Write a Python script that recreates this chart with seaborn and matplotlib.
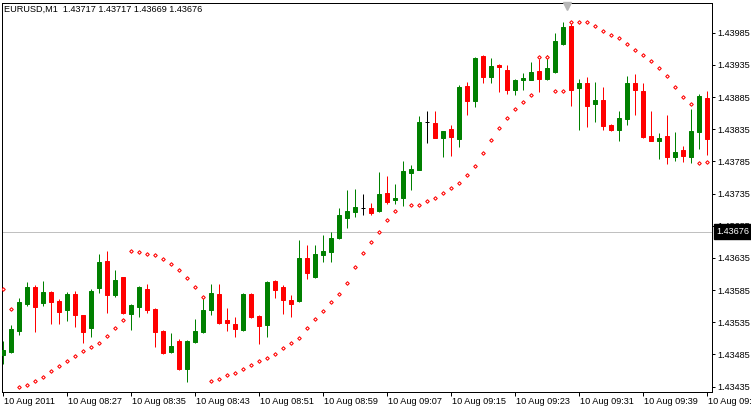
import numpy as np
import pandas as pd
import matplotlib
matplotlib.use("Agg")
import matplotlib.pyplot as plt
import matplotlib.transforms as mtransforms
import seaborn as sns

# ---------------- data (EURUSD M1, 10 Aug 2011 08:19 .. 09:47) ----------------
opens = [143484, 143489, 143521, 143564, 143590, 143565, 143582, 143568, 143554, 143579,
         143546, 143526, 143588, 143630, 143578, 143605, 143548, 143559, 143587, 143556,
         143521, 143489, 143506, 143462, 143504, 143520, 143554, 143579, 143539, 143532,
         143523, 143579, 143545, 143531, 143599, 143590, 143570, 143568, 143635, 143605,
         143640, 143644, 143666, 143697, 143706, 143713, 143713, 143708, 143736, 143725,
         143728, 143767, 143772, 143846, 143845, 143821, 143835, 143820, 143902, 143879,
         143949, 143916, 143935, 143927, 143896, 143912, 143912, 143926, 143913, 143924,
         143967, 143995, 143899, 143907, 143874, 143880, 143842, 143834, 143851, 143907,
         143894, 143824, 143817, 143824, 143792, 143803, 143792, 143831, 143884]
highs = [143506, 143531, 143573, 143598, 143593, 143599, 143583, 143571, 143582, 143584,
         143547, 143587, 143641, 143646, 143616, 143606, 143563, 143591, 143595, 143557,
         143523, 143518, 143509, 143507, 143540, 143574, 143595, 143595, 143557, 143543,
         143580, 143581, 143546, 143599, 143600, 143593, 143578, 143663, 143655, 143655,
         143671, 143675, 143713, 143741, 143742, 143734, 143720, 143769, 143762, 143750,
         143786, 143779, 143856, 143863, 143863, 143833, 143842, 143904, 143908, 143947,
         143950, 143946, 143936, 143935, 143913, 143922, 143940, 143944, 143950, 143985,
         144002, 144002, 143913, 143916, 143908, 143901, 143843, 143863, 143918, 143921,
         143907, 143863, 143829, 143857, 143830, 143809, 143866, 143890, 143894]
lows = [143470, 143487, 143515, 143560, 143520, 143560, 143532, 143532, 143537, 143528,
        143503, 143512, 143581, 143550, 143574, 143548, 143523, 143543, 143550, 143497,
        143486, 143487, 143461, 143442, 143503, 143519, 143546, 143533, 143521, 143512,
        143522, 143542, 143501, 143512, 143573, 143548, 143543, 143566, 143602, 143604,
        143629, 143629, 143665, 143682, 143699, 143702, 143702, 143707, 143719, 143719,
        143716, 143741, 143771, 143814, 143821, 143792, 143793, 143807, 143857, 143870,
        143907, 143907, 143893, 143890, 143888, 143896, 143911, 143893, 143912, 143923,
        143966, 143871, 143834, 143838, 143846, 143834, 143833, 143817, 143842, 143857,
        143822, 143816, 143789, 143781, 143786, 143784, 143783, 143804, 143795]
closes = [143492, 143525, 143567, 143590, 143559, 143582, 143567, 143551, 143579, 143546,
          143520, 143584, 143629, 143578, 143601, 143550, 143562, 143590, 143554, 143520,
          143487, 143498, 143462, 143506, 143521, 143554, 143581, 143534, 143534, 143525,
          143579, 143543, 143529, 143598, 143585, 143570, 143564, 143635, 143612, 143641,
          143646, 143666, 143702, 143708, 143714, 143713, 143705, 143734, 143722, 143728,
          143770, 143773, 143846, 143846, 143821, 143832, 143823, 143901, 143879, 143946,
          143916, 143933, 143932, 143896, 143912, 143915, 143924, 143913, 143930, 143972,
          143994, 143896, 143907, 143871, 143880, 143840, 143834, 143852, 143907, 143896,
          143823, 143817, 143821, 143792, 143800, 143793, 143832, 143887, 143820]
sar = [143587, 143556, 143435, 143438, 143444, 143450, 143459, 143467, 143475, 143483,
       143490, 143497, 143503, 143514, 143526, 143539, 143646, 143644, 143641, 143640,
       143633, 143626, 143616, 143604, 143590, 143574, 143444, 143447, 143453, 143456,
       143462, 143469, 143475, 143480, 143486, 143495, 143503, 143511, 143526, 143540,
       143553, 143567, 143579, 143596, 143621, 143643, 143660, 143675, 143694, 143708,
       None, 143717, 143717, 143724, 143728, 143736, 143744, 143752, 143764, 143778,
       143798, 143818, 143837, 143852, 143866, 143877, 143888, 143947, 143947, 143894,
       143894, 144002, 144002, 144002, 143995, 143988, 143981, 143977, 143967, 143958,
       143950, 143941, 143930, 143918, 143901, 143885, 143874, 143783, 143784]
time_labels = ["10 Aug 2011", "10 Aug 08:27", "10 Aug 08:35", "10 Aug 08:43",
               "10 Aug 08:51", "10 Aug 08:59", "10 Aug 09:07", "10 Aug 09:15",
               "10 Aug 09:23", "10 Aug 09:31", "10 Aug 09:39", "10 Aug 09:47"]
price_ticks = [1.43435, 1.43485, 1.43535, 1.43585, 1.43635, 1.43685, 1.43735,
               1.43785, 1.43835, 1.43885, 1.43935, 1.43985]
current_price = 1.43676
header = "EURUSD,M1  1.43717 1.43717 1.43669 1.43676"

df = pd.DataFrame({"open": opens, "high": highs, "low": lows, "close": closes,
                   "sar": pd.array(sar, dtype="Float64")}).astype(float) / 1e5
df["bar"] = np.arange(len(df))

GREEN, RED, BLACK = "#008000", "#FF0000", "#000000"
df["color"] = np.where(df["close"] > df["open"], GREEN,
                       np.where(df["close"] < df["open"], RED, BLACK))

# ---------------- figure ----------------
sns.set_theme(style="white")
plt.rcParams["font.family"] = ["Liberation Sans", "DejaVu Sans"]
FS = 6.6
W, H = 751, 407
fig = plt.figure(figsize=(W / 100, H / 100), dpi=100, facecolor="white")
ax = fig.add_axes([1.5 / W, 1 - 391.5 / H, 710 / W, 389 / H])
ax.set_facecolor("white")

px = 0.72  # one pixel in points
ax.axhline(current_price, color="#C0C0C0", lw=px, zorder=0)

ax.vlines(df["bar"], df["low"], df["high"], colors=df["color"], lw=px, zorder=2)
body_bottom = df[["open", "close"]].min(axis=1)
body_height = (df["close"] - df["open"]).abs()
ax.bar(df["bar"], body_height, bottom=body_bottom, width=0.5,
       color=df["color"], edgecolor=df["color"], linewidth=px, zorder=3)

sns.scatterplot(data=df.dropna(subset=["sar"]), x="bar", y="sar", ax=ax, marker="D", s=3.2,
                facecolor="white", edgecolor=RED, linewidth=0.75, zorder=4)

ax.set_xlim(-0.125, 88.625)
ax.set_ylim(1.434275, 1.440319)

# axes / spines
for sp in ax.spines.values():
    sp.set_visible(True)
    sp.set_color("black")
    sp.set_linewidth(px)

ax.yaxis.tick_right()
ax.set_yticks(price_ticks)
ax.set_yticklabels([f"{v:.5f}" for v in price_ticks])
ax.tick_params(axis="y", which="both", direction="out", length=3 * px, width=px,
               pad=2.0, labelsize=FS, colors="black", right=True, left=False)
ax.set_xticks(df["bar"].iloc[::8])
ax.set_xticklabels(time_labels)
ax.tick_params(axis="x", which="both", direction="out", length=4 * px, width=px,
               pad=1.0, labelsize=FS, colors="black", bottom=True)
offset = mtransforms.ScaledTranslation(2 / 100, 0, fig.dpi_scale_trans)
for lab in ax.get_xticklabels():
    lab.set_horizontalalignment("left")
    lab.set_transform(lab.get_transform() + offset)
ax.set_xlabel("")
ax.set_ylabel("")
ax.grid(False)

# current price label on the price scale
trans = mtransforms.blended_transform_factory(ax.transAxes, ax.transData)
ax.annotate(f"{current_price:.5f}", xy=(1.0, current_price), xycoords=trans,
            xytext=(5, 0), textcoords="offset pixels", ha="left", va="center",
            fontsize=FS, color="white", annotation_clip=False, zorder=10,
            bbox=dict(boxstyle="square,pad=0.3", facecolor="black", edgecolor="black"))

# chart-shift marker at the top
ax.plot([0.7965], [0.991], marker="v", markersize=6, color="#B8B8B8",
        transform=ax.transAxes, clip_on=False, zorder=5)

fig.text(4 / W, 1 - 5 / H, header, ha="left", va="top", fontsize=FS, color="black")

fig.savefig("out.png", dpi=100, facecolor="white")
